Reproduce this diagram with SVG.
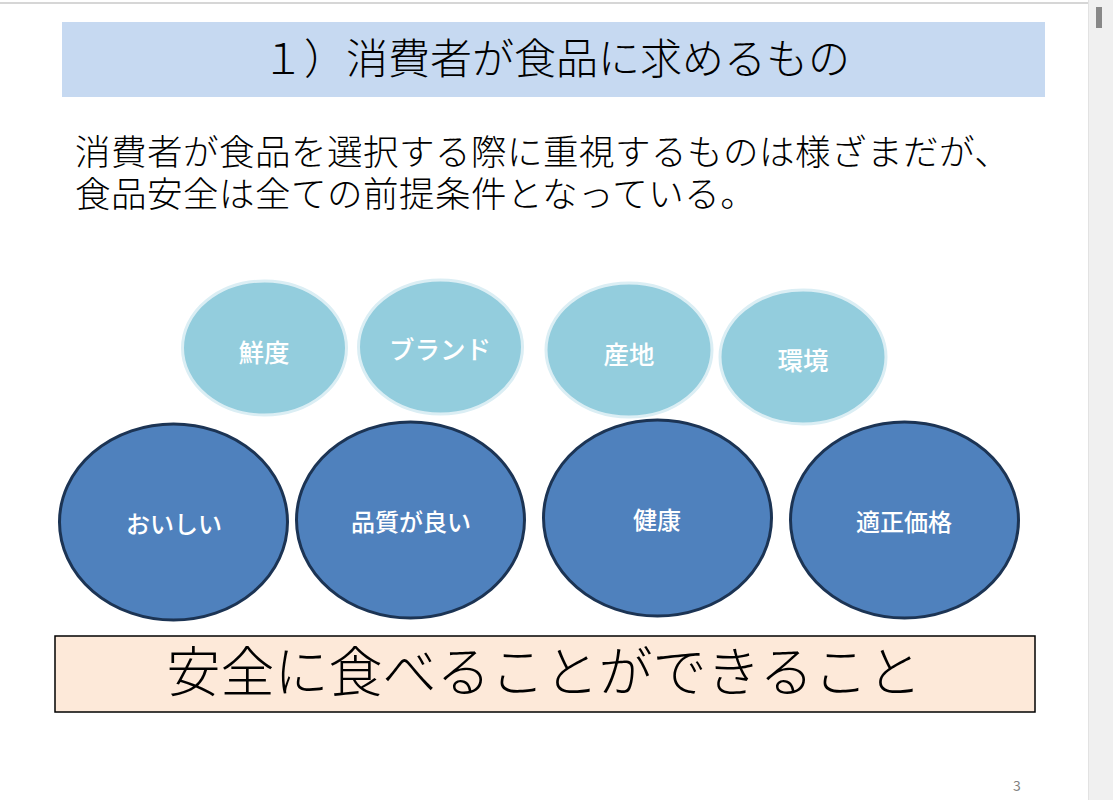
<svg xmlns="http://www.w3.org/2000/svg" width="1113" height="800" viewBox="0 0 1113 800">
<style>
.jp{font-family:"Noto Sans CJK JP","Noto Sans CJK SC",sans-serif;}
.small ellipse{fill:#93cddd;stroke:#dbeef4;stroke-width:3;}
.big ellipse{fill:#4f81bd;stroke:#1c3454;stroke-width:3;}
.lbl{fill:#ffffff;font-size:24px;font-weight:500;text-anchor:middle;dominant-baseline:central;}
.small .lbl{font-size:25.5px;}
</style>
<rect x="0" y="0" width="1113" height="800" fill="#ffffff"/>
<line x1="0" y1="3" x2="1088" y2="3" stroke="#c8c8c8" stroke-width="1.5"/>
<rect x="1089" y="0" width="24" height="800" fill="#f0f0f0"/>
<line x1="1088.5" y1="0" x2="1088.5" y2="800" stroke="#e2e2e2"/>
<rect x="1096" y="7" width="6" height="21" fill="#888888"/>

<g id="title">
<rect x="62" y="22" width="983" height="75" fill="#c6d9f1"/>
<text class="jp" x="556" y="74" font-size="42" font-weight="300" text-anchor="middle" fill="#000">１）消費者が食品に求めるもの</text>
</g>

<g id="body" class="jp" font-size="35.5" font-weight="300" fill="#000" letter-spacing="0.5">
<text x="75" y="165">消費者が食品を選択する際に重視するものは様ざまだが、</text>
<text x="75" y="207">食品安全は全ての前提条件となっている。</text>
</g>

<g id="connectors"></g>

<g id="n-sendo" class="small"><ellipse cx="264.5" cy="348" rx="82" ry="67"/><text class="jp lbl" x="264" y="350">鮮度</text></g>
<g id="n-brand" class="small"><ellipse cx="440.5" cy="347" rx="82" ry="67"/><text class="jp lbl" x="440" y="347">ブランド</text></g>
<g id="n-sanchi" class="small"><ellipse cx="629" cy="350" rx="83" ry="67"/><text class="jp lbl" x="629" y="352">産地</text></g>
<g id="n-kankyo" class="small"><ellipse cx="803" cy="357" rx="83" ry="67"/><text class="jp lbl" x="803" y="358">環境</text></g>

<g id="n-oishii" class="big"><ellipse cx="173.5" cy="522" rx="114" ry="98"/><text class="jp lbl" x="174" y="522">おいしい</text></g>
<g id="n-hinshitsu" class="big"><ellipse cx="410.5" cy="520" rx="114" ry="98"/><text class="jp lbl" x="411" y="520">品質が良い</text></g>
<g id="n-kenko" class="big"><ellipse cx="657.5" cy="518" rx="114" ry="98"/><text class="jp lbl" x="657" y="518">健康</text></g>
<g id="n-kakaku" class="big"><ellipse cx="904.5" cy="520" rx="114" ry="98"/><text class="jp lbl" x="904" y="520">適正価格</text></g>

<g id="base">
<rect x="55" y="636" width="980" height="76" fill="#fde9d9" stroke="#000" stroke-width="1.5"/>
<text class="jp" x="544" y="692" font-size="54" font-weight="300" text-anchor="middle" fill="#000">安全に食べることができること</text>
</g>

<text class="jp" x="1017" y="791" font-size="14" fill="#7f7f7f" text-anchor="middle">3</text>
</svg>
